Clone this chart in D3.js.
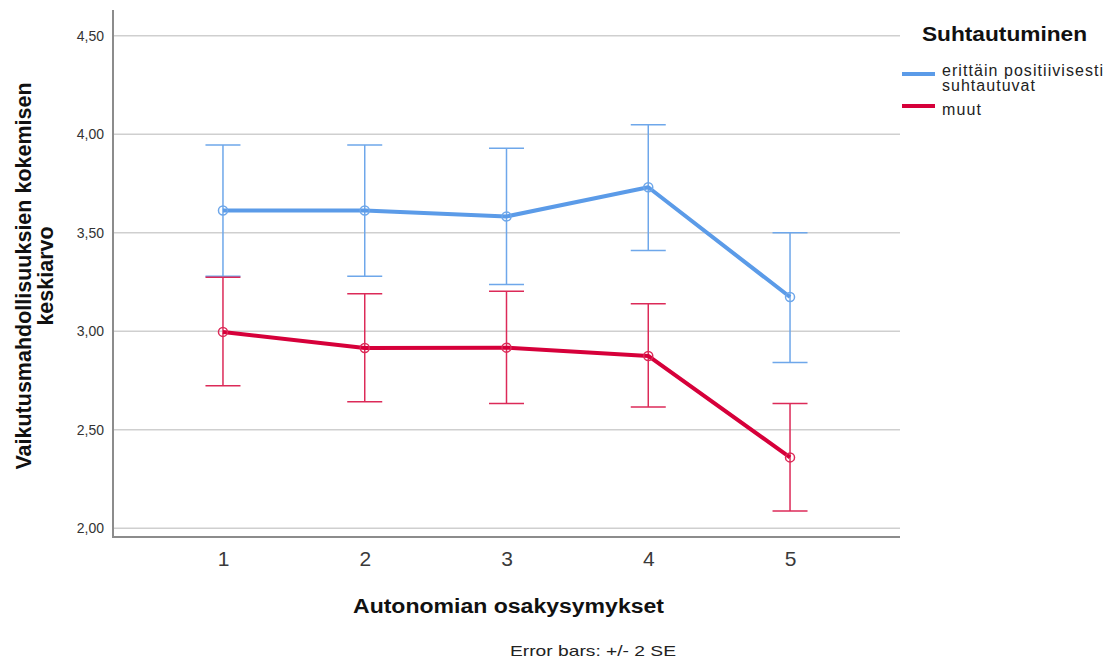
<!DOCTYPE html>
<html>
<head>
<meta charset="utf-8">
<script src="https://cdn.jsdelivr.net/npm/d3@7/dist/d3.min.js"></script>
<style>
  html, body { margin: 0; padding: 0; background: #fff; }
  svg { display: block; font-family: "Liberation Sans", Arial, sans-serif; }
</style>
</head>
<body>
<svg id="chart" width="1116" height="658"></svg>
<script>
// Question numbers on the x axis
const questions = [1, 2, 3, 4, 5];
// Group means and ±2 SE bounds
const seriesNames = ["erittäin positiivisesti suhtautuvat", "muut"];
const positiveMean  = [3.613, 3.613, 3.583, 3.731, 3.174];
const positiveUpper = [3.946, 3.946, 3.929, 4.049, 3.500];
const positiveLower = [3.279, 3.279, 3.238, 3.410, 2.841];
const otherMean  = [2.997, 2.915, 2.917, 2.875, 2.360];
const otherUpper = [3.275, 3.191, 3.203, 3.140, 2.634];
const otherLower = [2.723, 2.642, 2.634, 2.616, 2.088];
const yTicks = [2.0, 2.5, 3.0, 3.5, 4.0, 4.5];

const colors = ["#5b9be8", "#d6003a"];
const barColors = ["#6ea7ea", "#dc2a58"];

const svg = d3.select("#chart");
const plot = { left: 113, right: 900, top: 10, bottom: 537 };

const x = d3.scaleLinear()
  .domain([1 - 110 / 141.8, 5 + 110 / 141.8])
  .range([plot.left, plot.right]);
const y = d3.scaleLinear()
  .domain([2, 4.5])
  .range([528.3, 35.8]);

const fmt = v => d3.format(".2f")(v).replace(".", ",");

// Horizontal gridlines
svg.append("g")
  .selectAll("line")
  .data(yTicks)
  .join("line")
  .attr("x1", plot.left).attr("x2", plot.right)
  .attr("y1", d => y(d)).attr("y2", d => y(d))
  .attr("stroke", "#cfcfcf").attr("stroke-width", 1.5);

// Y axis
const yAxis = svg.append("g")
  .attr("transform", `translate(${plot.left},0)`)
  .call(d3.axisLeft(y).tickValues(yTicks).tickFormat(fmt).tickSize(0).tickPadding(9));
yAxis.select(".domain").remove();
yAxis.selectAll("text").attr("font-size", 14).attr("fill", "#333").attr("font-family", "Liberation Sans, Arial, sans-serif");

// X axis
const xAxis = svg.append("g")
  .attr("transform", `translate(0,${plot.bottom})`)
  .call(d3.axisBottom(x).tickValues(questions).tickFormat(d3.format("d")).tickSize(0).tickPadding(14));
xAxis.select(".domain").remove();
xAxis.selectAll("text").attr("font-size", 21).attr("fill", "#3a3a3a").attr("font-family", "Liberation Sans, Arial, sans-serif");

// Axis frame lines
svg.append("line")
  .attr("x1", plot.left).attr("x2", plot.left)
  .attr("y1", plot.top).attr("y2", plot.bottom)
  .attr("stroke", "#8c8c8c").attr("stroke-width", 2);
svg.append("line")
  .attr("x1", plot.left - 1).attr("x2", plot.right)
  .attr("y1", plot.bottom).attr("y2", plot.bottom)
  .attr("stroke", "#8c8c8c").attr("stroke-width", 2);

const groups = [
  { mean: positiveMean, upper: positiveUpper, lower: positiveLower },
  { mean: otherMean, upper: otherUpper, lower: otherLower }
];

const capHalf = 17.5;
const line = d3.line().x((d, i) => x(questions[i])).y(d => y(d));

groups.forEach((g, gi) => {
  const layer = svg.append("g");
  // Error bars
  const bars = layer.append("g")
    .attr("stroke", barColors[gi]).attr("stroke-width", 1.5).attr("fill", "none");
  questions.forEach((q, i) => {
    bars.append("line")
      .attr("x1", x(q)).attr("x2", x(q))
      .attr("y1", y(g.upper[i])).attr("y2", y(g.lower[i]));
    bars.append("line")
      .attr("x1", x(q) - capHalf).attr("x2", x(q) + capHalf)
      .attr("y1", y(g.upper[i])).attr("y2", y(g.upper[i]));
    bars.append("line")
      .attr("x1", x(q) - capHalf).attr("x2", x(q) + capHalf)
      .attr("y1", y(g.lower[i])).attr("y2", y(g.lower[i]));
  });
  // Mean line
  layer.append("path")
    .datum(g.mean)
    .attr("d", line)
    .attr("fill", "none")
    .attr("stroke", colors[gi])
    .attr("stroke-width", 4)
    .attr("stroke-linejoin", "round");
  // Mean markers
  layer.append("g")
    .selectAll("circle")
    .data(g.mean)
    .join("circle")
    .attr("cx", (d, i) => x(questions[i]))
    .attr("cy", d => y(d))
    .attr("r", 4.5)
    .attr("fill", "none")
    .attr("stroke", barColors[gi])
    .attr("stroke-width", 1.5);
});

// Axis titles
svg.append("text")
  .attr("x", 353).attr("y", 613)
  .attr("textLength", 311).attr("lengthAdjust", "spacingAndGlyphs")
  .attr("font-size", 20).attr("font-weight", "bold").attr("fill", "#111")
  .text("Autonomian osakysymykset");

const yTitle = svg.append("text")
  .attr("transform", "translate(0,276) rotate(-90)")
  .attr("text-anchor", "middle")
  .attr("font-size", 21.5).attr("font-weight", "bold").attr("fill", "#111");
yTitle.append("tspan").attr("x", 0).attr("y", 31).text("Vaikutusmahdollisuuksien kokemisen");
yTitle.append("tspan").attr("x", 0).attr("y", 53).text("keskiarvo");

// Footnote
svg.append("text")
  .attr("x", 510).attr("y", 656)
  .attr("textLength", 166).attr("lengthAdjust", "spacingAndGlyphs")
  .attr("font-size", 15).attr("fill", "#222")
  .text("Error bars: +/- 2 SE");

// Legend
const legend = svg.append("g");
legend.append("text")
  .attr("x", 922).attr("y", 41)
  .attr("textLength", 165).attr("lengthAdjust", "spacingAndGlyphs")
  .attr("font-size", 21).attr("font-weight", "bold").attr("fill", "#111")
  .text("Suhtautuminen");

const legendRows = [
  { lineY: 74, lines: ["erittäin positiivisesti", "suhtautuvat"], widths: [161, 93], textY: 76 },
  { lineY: 106, lines: ["muut"], widths: [39], textY: 115 }
];
legendRows.forEach((r, i) => {
  legend.append("line")
    .attr("x1", 902).attr("x2", 935)
    .attr("y1", r.lineY).attr("y2", r.lineY)
    .attr("stroke", colors[i]).attr("stroke-width", 4);
  r.lines.forEach((s, j) => {
    legend.append("text")
      .attr("x", 942).attr("y", r.textY + j * 15)
      .attr("textLength", r.widths[j]).attr("lengthAdjust", "spacing")
      .attr("font-size", 16).attr("fill", "#222")
      .text(s);
  });
});
</script>
</body>
</html>
